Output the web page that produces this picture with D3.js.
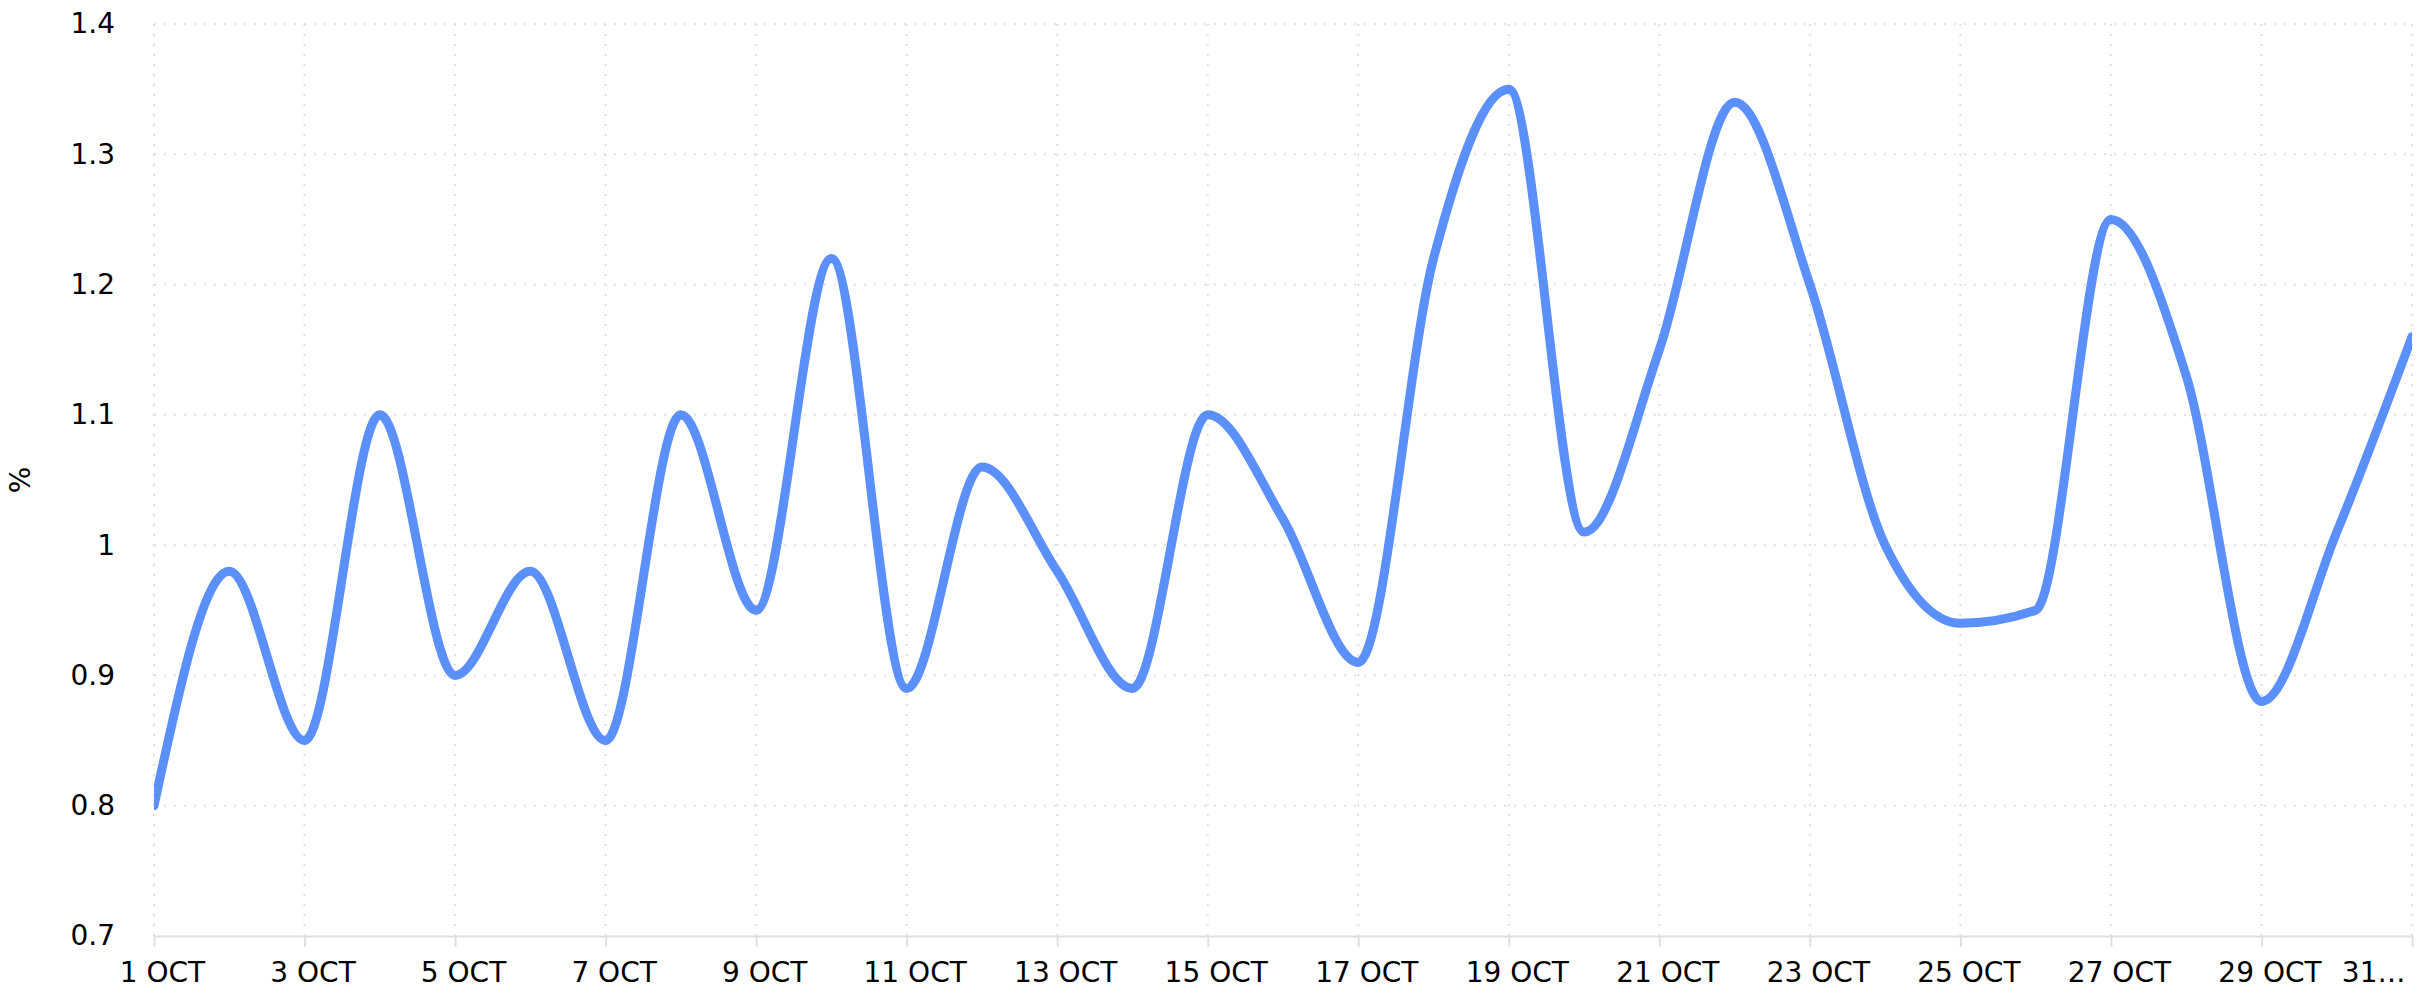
<!DOCTYPE html>
<html>
<head>
<meta charset="utf-8">
<script src="https://cdn.jsdelivr.net/npm/d3@7"></script>
<style>
    html, body { margin: 0; padding: 0; background: #fff; }
    svg { display: block; font-family: "DejaVu Sans", sans-serif; }
</style>
</head>
<body>
<svg id="visualization" width="2425" height="1000"></svg>
<script>
const days = [1, 2, 3, 4, 5, 6, 7, 8, 9, 10, 11, 12, 13, 14, 15, 16, 17, 18, 19, 20, 21, 22, 23, 24, 25, 26, 27, 28, 29, 30, 31];
const values = [0.80, 0.98, 0.85, 1.10, 0.90, 0.98, 0.85, 1.10, 0.95, 1.22, 0.89, 1.06, 0.98, 0.89, 1.10, 1.02, 0.91, 1.22, 1.35, 1.01, 1.15, 1.34, 1.20, 1.00, 0.94, 0.95, 1.25, 1.13, 0.88, 1.01, 1.16];
const xTicks = [1, 3, 5, 7, 9, 11, 13, 15, 17, 19, 21, 23, 25, 27, 29, 31];
const monthLabel = "OCT";
const yTicks = [0.7, 0.8, 0.9, 1.0, 1.1, 1.2, 1.3, 1.4];
const yTitle = "%";

const totalWidth = 2425;
const totalHeight = 1000;
const margin = { top: 24, right: 13, bottom: 64, left: 154 };
const width = totalWidth - margin.left - margin.right;
const height = totalHeight - margin.top - margin.bottom;

const gridColour = "#e0e0e0";
const lineColour = "#5b8ff9";

const svg = d3.select("#visualization");
const chart = svg.append("g")
    .attr("transform", `translate(${margin.left}, ${margin.top})`);

const x = d3.scaleLinear().domain([days[0], days[days.length - 1]]).range([0, width]);
const y = d3.scaleLinear().domain([yTicks[0], yTicks[yTicks.length - 1]]).range([height, 0]);

// dotted grid
chart.append("g")
    .selectAll("line")
    .data(yTicks.slice(1))
    .join("line")
    .attr("x1", 0)
    .attr("x2", width)
    .attr("y1", d => y(d))
    .attr("y2", d => y(d))
    .attr("stroke", gridColour)
    .attr("stroke-width", 2)
    .attr("stroke-dasharray", "2 8");

chart.append("g")
    .selectAll("line")
    .data(xTicks)
    .join("line")
    .attr("x1", d => x(d))
    .attr("x2", d => x(d))
    .attr("y1", 0)
    .attr("y2", height)
    .attr("stroke", gridColour)
    .attr("stroke-width", 2)
    .attr("stroke-dasharray", "2 8");

// y axis, labels only
const yAxis = chart.append("g")
    .call(d3.axisLeft(y).tickValues(yTicks).tickSize(0).tickPadding(39).tickFormat(d => String(+d.toFixed(1))));
yAxis.select(".domain").remove();
yAxis.selectAll("text")
    .attr("font-size", 28)
    .attr("font-family", "DejaVu Sans")
    .attr("fill", "#000");

svg.append("text")
    .attr("transform", `translate(22, ${margin.top + height / 2}) rotate(-90)`)
    .attr("text-anchor", "middle")
    .attr("dominant-baseline", "middle")
    .attr("font-size", 28)
    .attr("fill", "#000")
    .text(yTitle);

// x axis
const xAxis = chart.append("g")
    .attr("transform", `translate(0, ${height})`)
    .call(d3.axisBottom(x).tickValues(xTicks).tickSizeInner(11).tickSizeOuter(0).tickPadding(15).tickFormat(d => `${d} ${monthLabel}`));
xAxis.select(".domain").attr("stroke", gridColour).attr("stroke-width", 2);
xAxis.selectAll(".tick line").attr("stroke", gridColour).attr("stroke-width", 2);
xAxis.selectAll("text")
    .attr("font-size", 28)
    .attr("font-family", "DejaVu Sans")
    .attr("fill", "#000")
    .attr("dx", 8);

// labels running past the right edge get shortened with an ellipsis
const rightLimit = width - 7;
xAxis.selectAll(".tick").each(function(d) {
    const t = d3.select(this).select("text");
    const node = t.node();
    if (x(d) + 8 + node.getComputedTextLength() / 2 > rightLimit + margin.right) {
        let txt = t.text();
        while (txt.length > 1 && node.getComputedTextLength() > 72) {
            txt = txt.slice(0, -1).trimEnd();
            t.text(txt + "…");
        }
        t.attr("text-anchor", "end").attr("dx", rightLimit - x(d));
    }
});

// line
svg.append("defs").append("clipPath")
    .attr("id", "plot-clip")
    .append("rect")
    .attr("x", 0)
    .attr("y", -20)
    .attr("width", width)
    .attr("height", height + 40);

const line = d3.line()
    .x((_, i) => x(days[i]))
    .y(d => y(d))
    .curve(d3.curveMonotoneX);

chart.append("path")
    .datum(values)
    .attr("clip-path", "url(#plot-clip)")
    .attr("fill", "none")
    .attr("stroke", lineColour)
    .attr("stroke-width", 9)
    .attr("stroke-linejoin", "round")
    .attr("stroke-linecap", "round")
    .attr("d", line);
</script>
</body>
</html>
